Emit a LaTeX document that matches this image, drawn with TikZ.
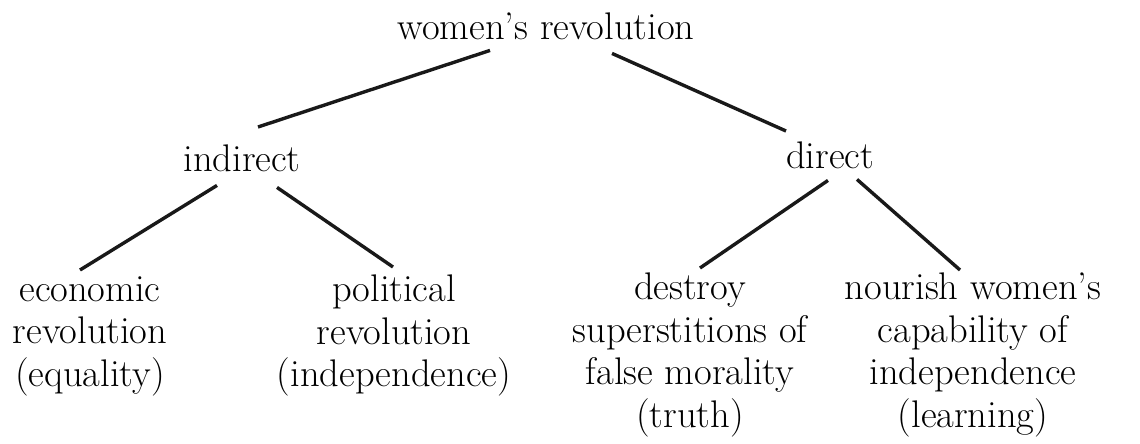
\documentclass[tikz,border=0pt]{standalone}
\usepackage{fontspec}
\begin{document}
\begin{tikzpicture}[x=1pt,y=-1pt,
  lbl/.style={font=\fontsize{38.5}{42.5}\selectfont, align=center, inner sep=0pt, anchor=north},
  edge/.style={line width=3.4pt, draw=black!90}]
\useasboundingbox (0,0) rectangle (1140,444);
\node[lbl] (root) at (546,13) {women's revolution};
\node[lbl] (ind) at (242,145) {indirect};
\node[lbl] (dir) at (830,142) {direct};
\node[lbl] (eco) at (90,276) {economic\\revolution\\(equality)};
\node[lbl] (pol) at (394,275) {political\\revolution\\(independence)};
\node[lbl] (des) at (690,273) {destroy\\superstitions of\\false morality\\(truth)};
\node[lbl] (nou) at (973,273) {nourish women's\\capability of\\independence\\(learning)};
\draw[edge] ([xshift=-56pt,yshift=-10pt]root.south) -- ([xshift=16pt,yshift=18pt]ind.north);
\draw[edge] ([xshift=66pt,yshift=-13pt]root.south) -- ([xshift=-44pt,yshift=11pt]dir.north);
\draw[edge] ([xshift=-25pt,yshift=-13pt]ind.south) -- ([xshift=-10pt,yshift=6pt]eco.north);
\draw[edge] ([xshift=35pt,yshift=-15pt]ind.south) -- ([xshift=-1pt,yshift=8pt]pol.north);
\draw[edge] ([xshift=-2pt,yshift=-11pt]dir.south) -- ([xshift=10pt,yshift=5pt]des.north);
\draw[edge] ([xshift=27pt,yshift=-10pt]dir.south) -- ([xshift=-13pt,yshift=3pt]nou.north);
\end{tikzpicture}
\end{document}
